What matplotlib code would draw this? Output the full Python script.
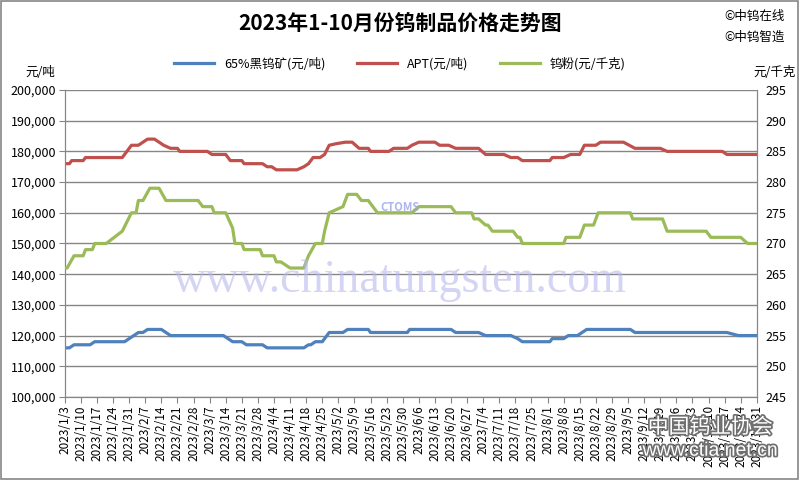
import pandas as pd
import matplotlib.pyplot as plt
import matplotlib.patheffects as pe
from matplotlib.patches import Rectangle

plt.rcParams['font.family'] = ['Noto Sans CJK SC', 'DejaVu Sans']

# Change points (date, price)
wolframite_dates = ['1/3', '1/5', '1/7', '1/14', '1/16', '1/29', '1/31', '2/4', '2/6', '2/8',
                    '2/14', '2/18', '3/13', '3/15', '3/17', '3/21', '3/23', '3/30', '4/1', '4/17',
                    '4/19', '4/20', '4/22', '4/25', '4/26', '4/28', '5/4', '5/6', '5/15', '5/16',
                    '6/1', '6/2', '6/20', '6/22', '7/2', '7/5', '7/16', '7/19', '7/21', '8/2',
                    '8/3', '8/8', '8/10', '8/14', '8/18', '9/6', '9/8', '10/18', '10/23', '10/31']
wolframite = [116000, 116000, 117000, 117000, 118000, 118000, 119000, 121000, 121000, 122000,
              122000, 120000, 120000, 119000, 118000, 118000, 117000, 117000, 116000, 116000,
              117000, 117000, 118000, 118000, 119000, 121000, 121000, 122000, 122000, 121000,
              121000, 122000, 122000, 121000, 121000, 120000, 120000, 119000, 118000, 118000,
              119000, 119000, 120000, 120000, 122000, 122000, 121000, 121000, 120000, 120000]

apt_dates = ['1/3', '1/5', '1/6', '1/11', '1/12', '1/28', '2/1', '2/4', '2/6', '2/8',
             '2/11', '2/13', '2/15', '2/18', '2/21', '2/22', '3/6', '3/8', '3/14', '3/16',
             '3/21', '3/22', '3/30', '4/1', '4/3', '4/5', '4/14', '4/17', '4/19', '4/21',
             '4/24', '4/26', '4/28', '5/1', '5/5', '5/8', '5/11', '5/15', '5/16', '5/24',
             '5/26', '6/1', '6/3', '6/6', '6/13', '6/15', '6/19', '6/22', '7/2', '7/5',
             '7/13', '7/16', '7/19', '7/21', '8/2', '8/3', '8/8', '8/11', '8/15', '8/17',
             '8/22', '8/24', '9/3', '9/8', '9/19', '9/22', '10/16', '10/18', '10/31']
apt = [176000, 176000, 177000, 177000, 178000, 178000, 182000, 182000, 183000, 184000,
       184000, 183000, 182000, 181000, 181000, 180000, 180000, 179000, 179000, 177000,
       177000, 176000, 176000, 175000, 175000, 174000, 174000, 175000, 176000, 178000,
       178000, 179000, 182000, 182500, 183000, 183000, 181000, 181000, 180000, 180000,
       181000, 181000, 182000, 183000, 183000, 182000, 182000, 181000, 181000, 179000,
       179000, 178000, 178000, 177000, 177000, 178000, 178000, 179000, 179000, 182000,
       182000, 183000, 183000, 181000, 181000, 180000, 180000, 179000, 179000]

powder_dates = ['1/3', '1/4', '1/7', '1/11', '1/12', '1/15', '1/16', '1/21', '1/28', '2/1',
                '2/3', '2/4', '2/6', '2/9', '2/13', '2/16', '3/2', '3/4', '3/8', '3/9',
                '3/14', '3/17', '3/18', '3/21', '3/22', '3/29', '3/30', '4/4', '4/5', '4/7',
                '4/11', '4/17', '4/19', '4/22', '4/25', '4/26', '4/28', '5/4', '5/6', '5/10',
                '5/12', '5/15', '5/17', '5/19', '6/3', '6/6', '6/20', '6/22', '6/29', '6/30',
                '7/2', '7/5', '7/6', '7/8', '7/17', '7/19', '7/20', '7/21', '8/8', '8/9',
                '8/15', '8/17', '8/21', '8/23', '9/6', '9/7', '9/20', '9/22', '10/9', '10/11',
                '10/24', '10/27', '10/31']
powder = [266, 266, 268, 268, 269, 269, 270, 270, 272, 275,
          275, 277, 277, 279, 279, 277, 277, 276, 276, 275,
          275, 272.5, 270, 270, 269, 269, 268, 268, 267, 267,
          266, 266, 268, 270, 270, 272, 275, 276, 278, 278,
          277, 277, 276, 275, 275, 276, 276, 275, 275, 274,
          274, 273, 273, 272, 272, 271, 271, 270, 270, 271,
          271, 273, 273, 275, 275, 274, 274, 272, 272, 271,
          271, 270, 270]

start = pd.Timestamp('2023-01-03')


def to_days(dates):
    return [(pd.Timestamp('2023/' + d) - start).days for d in dates]


tick_days = list(range(0, 302, 7))
tick_labels = [f"{d.year}/{d.month}/{d.day}" for d in
               (start + pd.Timedelta(days=k) for k in tick_days)]

fig = plt.figure(figsize=(8, 4.8), dpi=100)
ax = fig.add_axes([0.081, 0.173, 0.865, 0.6395])
ax2 = ax.twinx()

blue, red, green = '#4F81BD', '#C0504D', '#9BBB59'
l1, = ax.plot(to_days(wolframite_dates), wolframite, color=blue, lw=2.3,
              label='65%黑钨矿(元/吨)', zorder=3)
l2, = ax.plot(to_days(apt_dates), apt, color=red, lw=2.3, label='APT(元/吨)', zorder=3)
l3, = ax2.plot(to_days(powder_dates), powder, color=green, lw=2.3, label='钨粉(元/千克)', zorder=3)

ax.set_ylim(100000, 200000)
ax.set_yticks(range(100000, 200001, 10000))
ax.set_yticklabels([f"{v:,}" for v in range(100000, 200001, 10000)], fontsize=9)
ax2.set_ylim(245, 295)
ax2.set_yticks(range(245, 296, 5))
ax2.tick_params(axis='y', labelsize=9, length=0, pad=6)
ax.set_xlim(0, 301)
ax.set_xticks(tick_days)
ax.set_xticklabels(tick_labels, rotation=90, fontsize=8.5)
ax.tick_params(axis='x', length=4, color='#868686', pad=2)
ax.tick_params(axis='y', length=4, color='#868686', pad=2)
ax.grid(axis='y', color='#868686', lw=1)
ax.set_axisbelow(True)
for a in (ax, ax2):
    a.spines['top'].set_visible(False)
    for s in ('left', 'right', 'bottom'):
        a.spines[s].set_color('#868686')

# watermarks
fig.text(0.5, 0.415, 'www.chinatungsten.com', family='Liberation Serif', fontsize=33,
         color='#b8b8ee', alpha=0.6, ha='center', va='center', zorder=0)
fig.text(0.5, 0.568, 'CTOMS', fontsize=8, color='#9aa4e8', style='italic', weight='bold',
         ha='center', va='center', alpha=0.8)
wm = [pe.withStroke(linewidth=2.5, foreground='#707070')]
fig.text(0.888, 0.11, '中国钨业协会', fontsize=15, color='white', ha='center', va='center',
         path_effects=wm)
fig.text(0.888, 0.06, 'www.ctia.net.cn', fontsize=14, color='white', ha='center', va='center',
         family=['Liberation Sans', 'DejaVu Sans'], path_effects=wm)

fig.text(0.5, 0.952, '2023年1-10月份钨制品价格走势图', fontsize=15, weight='bold',
         ha='center', va='center')
fig.text(0.905, 0.965, '©中钨在线', fontsize=9, ha='left', va='center')
fig.text(0.905, 0.923, '©中钨智造', fontsize=9, ha='left', va='center')
fig.text(0.05, 0.848, '元/吨', fontsize=9, ha='center', va='center')
fig.text(0.968, 0.848, '元/千克', fontsize=9, ha='center', va='center')

fig.legend(handles=[l1, l2, l3], loc='center', bbox_to_anchor=(0.5, 0.868), ncol=3,
           frameon=False, fontsize=9, handlelength=3.2, columnspacing=2.5)

fig.patches.append(Rectangle((0.001, 0.002), 0.997, 0.996, transform=fig.transFigure,
                             fill=False, edgecolor='#868686', lw=1.2))

fig.savefig('out.png', dpi=100)
